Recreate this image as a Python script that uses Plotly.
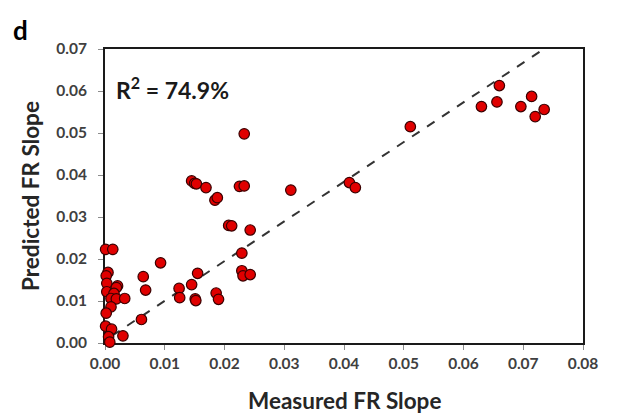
import plotly.graph_objects as go

# Measured vs predicted FR slope
measured = [
    0.0233, 0.0145, 0.0150, 0.0153, 0.0169, 0.0184, 0.0188, 0.0225, 0.0233, 0.0311,
    0.0207, 0.0212, 0.0243, 0.0001, 0.0013, 0.0229, 0.0093, 0.0005, 0.0002, 0.0064,
    0.0155, 0.0229, 0.0231, 0.0243, 0.0003, 0.0021, 0.0019, 0.0145, 0.0124, 0.0068,
    0.0003, 0.0015, 0.0125, 0.0010, 0.0019, 0.0033, 0.0151, 0.0152, 0.0186, 0.0190,
    0.0010, 0.0002, 0.0061, 0.0001, 0.0011, 0.0030, 0.0006, 0.0008,
    0.0409, 0.0419, 0.0511, 0.0630, 0.0656, 0.0660, 0.0696, 0.0714, 0.0720, 0.0735,
]
predicted = [
    0.0498, 0.0386, 0.0380, 0.0379, 0.0370, 0.0340, 0.0346, 0.0373, 0.0374, 0.0364,
    0.0280, 0.0279, 0.0269, 0.0223, 0.0223, 0.0214, 0.0191, 0.0168, 0.0160, 0.0158,
    0.0166, 0.0172, 0.0160, 0.0163, 0.0142, 0.0136, 0.0132, 0.0139, 0.0130, 0.0126,
    0.0122, 0.0118, 0.0108, 0.0106, 0.0105, 0.0106, 0.0105, 0.0101, 0.0119, 0.0104,
    0.0086, 0.0071, 0.0056, 0.0040, 0.0033, 0.0017, 0.0015, 0.0002,
    0.0382, 0.0370, 0.0515, 0.0563, 0.0574, 0.0613, 0.0563, 0.0587, 0.0539, 0.0556,
]

# Trend line (dashed)
trend_intercept = 0.0006
trend_slope = 0.945
trend_x = [0.0012, 0.0734]
trend_y = [trend_intercept + trend_slope * v for v in trend_x]

x_ticks = [0.00, 0.01, 0.02, 0.03, 0.04, 0.05, 0.06, 0.07, 0.08]
y_ticks = [0.00, 0.01, 0.02, 0.03, 0.04, 0.05, 0.06, 0.07]

FONT = "Lato"
TITLE_FONT = dict(family=FONT, size=22.5, color="#262626", weight="bold")

fig = go.Figure()
fig.add_trace(go.Scatter(
    x=trend_x, y=trend_y, mode="lines",
    line=dict(color="#333333", width=2, dash="dash"),
    hoverinfo="skip", showlegend=False,
))
fig.add_trace(go.Scatter(
    x=measured, y=predicted, mode="markers",
    marker=dict(size=10.5, color="#e00000", line=dict(color="#3a0000", width=1.2)),
    cliponaxis=False, showlegend=False,
))

axis_common = dict(
    showgrid=False, zeroline=False,
    showline=True, linecolor="#1a1a1a", linewidth=2, mirror=True,
    ticks="outside", ticklen=5, tickcolor="#8c8c8c", tickwidth=1,
    tickformat=".2f",
    tickfont=dict(family=FONT, size=15.5, color="#404040", weight="bold"),
    layer="below traces", automargin=False,
)

fig.update_layout(
    width=627, height=416,
    margin=dict(l=105, r=44, t=49, b=73, autoexpand=False),
    paper_bgcolor="white", plot_bgcolor="white",
    xaxis=dict(range=[0, 0.08], tickvals=x_ticks, **axis_common),
    yaxis=dict(range=[0, 0.07], tickvals=y_ticks, ticklabelstandoff=8, **axis_common),
    annotations=[
        dict(text="Measured FR Slope", xref="paper", yref="paper",
             x=0.5, y=-0.195, xanchor="center", yanchor="middle", showarrow=False,
             font=TITLE_FONT),
        dict(text="Predicted FR Slope", xref="paper", yref="paper",
             x=-0.157, y=0.5, xanchor="center", yanchor="middle", showarrow=False,
             textangle=-90, font=TITLE_FONT),
        dict(text="R<sup>2</sup> = 74.9%", xref="paper", yref="paper",
             x=0.019, y=0.865, xanchor="left", yanchor="middle", showarrow=False,
             font=dict(family=FONT, size=23, color="#1a1a1a", weight="bold")),
        dict(text="d", xref="paper", yref="paper",
             x=-0.196, y=1.065, xanchor="left", yanchor="middle", showarrow=False,
             font=dict(family=FONT, size=26, color="#000000", weight="bold")),
    ],
)

fig.write_html("out.html")
